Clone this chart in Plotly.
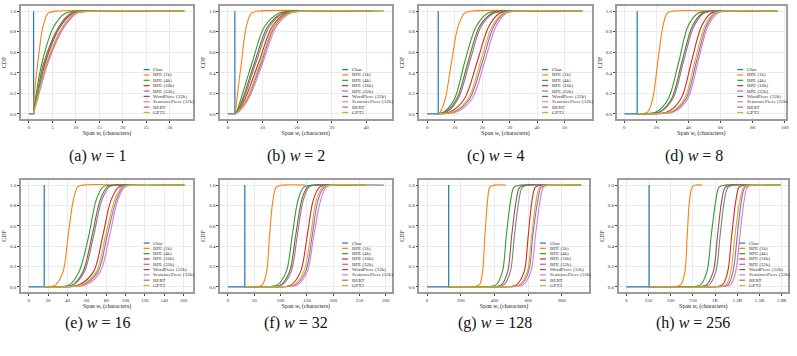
import plotly.graph_objects as go

TOKENIZERS = ["Char", "BPE (1k)", "BPE (4k)", "BPE (16k)", "BPE (32k)",
              "WordPiece (32k)", "SentencePiece (32k)", "BERT", "GPT2"]
COLORS = ["#1f77b4", "#ff7f0e", "#2ca02c", "#d62728", "#9467bd",
          "#8c564b", "#e377c2", "#7f7f7f", "#bcbd22"]

W_VALUES = [1, 2, 4, 8, 16, 32, 128, 256]
PANEL_LETTERS = ["a", "b", "c", "d", "e", "f", "g", "h"]

LEVELS = [0.0, 0.02, 0.15, 0.5, 0.85, 0.98, 1.0]

# rows: BPE1k, BPE4k, BPE16k, BPE32k, WordPiece, SentencePiece, BERT, GPT2
# values: x at each of LEVELS, then the end of the flat tail at 1.0
Q_W1 = [
    [1, 1.02, 1.1, 1.9, 3.0, 4.1, 5.7, 20],
    [1, 1.03, 1.4, 2.8, 5.3, 7.8, 10.6, 28],
    [1, 1.05, 1.7, 3.5, 6.7, 9.4, 12.8, 33],
    [1, 1.06, 1.8, 3.9, 7.4, 10.0, 13.5, 33],
    [1, 1.05, 1.6, 3.2, 6.4, 8.9, 12.0, 33],
    [1, 1.07, 1.9, 4.1, 7.6, 10.3, 13.8, 33],
    [1, 1.05, 1.6, 3.3, 6.5, 9.0, 12.2, 33],
    [1, 1.06, 1.8, 3.8, 7.2, 9.9, 13.4, 33.3],
]
Q_W2 = [
    [2, 2.2, 2.6, 3.9, 5.3, 6.8, 8.7, 30],
    [2, 2.5, 3.8, 7.0, 10.6, 14.7, 18.0, 40],
    [2, 2.8, 5.0, 8.9, 12.8, 16.8, 20.5, 42],
    [2, 3.0, 5.7, 9.7, 13.5, 17.4, 21.4, 42],
    [2, 2.6, 4.3, 7.7, 11.5, 15.7, 19.5, 42],
    [2, 3.1, 6.0, 10.1, 14.0, 18.0, 22.0, 42],
    [2, 2.7, 4.6, 8.1, 12.0, 16.1, 20.0, 45],
    [2, 2.9, 5.5, 9.4, 13.3, 17.6, 21.4, 45],
]
Q_W4 = [
    [4, 4.8, 6.6, 8.8, 11.2, 13.6, 16.0, 40],
    [4, 6.2, 10.0, 13.6, 17.8, 22.0, 25.7, 50],
    [4, 8.5, 13.6, 18.1, 22.4, 26.3, 30.5, 56],
    [4, 10.0, 15.5, 20.0, 24.2, 28.0, 31.7, 56],
    [4, 6.8, 10.8, 14.8, 19.0, 23.6, 28.0, 56],
    [4, 10.8, 16.4, 20.8, 25.0, 28.7, 32.3, 56],
    [4, 7.2, 11.3, 15.4, 19.6, 24.2, 28.7, 56.5],
    [4, 9.5, 15.0, 19.3, 23.6, 27.6, 31.7, 56.8],
]
Q_W8 = [
    [10, 14.6, 17.7, 20.8, 24.0, 26.7, 30.2, 60],
    [12, 20, 27.5, 33.8, 39.6, 45.8, 52, 80],
    [16, 27, 35.4, 41.7, 48, 54, 60, 90],
    [18, 30, 38.5, 44.8, 51, 56.5, 62.5, 95],
    [13, 22, 29.5, 35.8, 42.3, 48.5, 55, 95],
    [19, 31, 39.6, 45.8, 52, 58, 63.5, 95],
    [13, 22.5, 30.3, 36.7, 43.3, 49.5, 56, 95.5],
    [17, 29, 37.5, 43.8, 50, 56, 62.5, 96],
]
Q_W16 = [
    [21, 27.8, 35.5, 40.7, 46, 50.4, 55.7, 100],
    [28, 41.7, 52, 62, 69.6, 76.5, 87, 140],
    [35, 52, 67, 76.5, 85, 93, 102.6, 160],
    [38, 56, 71.5, 81, 90.4, 97.5, 106, 160],
    [30, 45, 56, 65.4, 73.7, 81, 92, 160],
    [40, 59, 74, 83.5, 92, 99, 108, 160],
    [31, 46, 57.5, 67, 75.5, 83, 94, 161],
    [37, 55, 70, 79.3, 88.7, 96, 106, 162],
]
Q_W32 = [
    [46, 65, 73.4, 79, 85.4, 91.8, 103, 147],
    [60, 93.7, 110.8, 122, 133, 144, 160, 230],
    [80, 120, 138, 150.6, 162, 174, 188.6, 260],
    [85, 128, 147.5, 160, 171, 183, 198, 260],
    [65, 100, 117, 128.5, 140, 151, 170, 260],
    [90, 132, 150.6, 163, 176, 186.7, 201, 260],
    [67, 103, 120, 131.6, 143, 154, 173, 296],
    [83, 125, 144, 157, 167.7, 180, 195, 268],
]
Q_W128 = [
    [251, 310, 329, 343, 359, 372, 398, 467],
    [310, 408, 447, 470, 496, 516, 555, 780],
    [400, 530, 576, 600, 623, 643, 682, 914],
    [420, 555, 602, 627, 657, 678, 722, 914],
    [330, 440, 478, 502, 529, 550, 594, 914],
    [430, 570, 616, 643, 671, 692, 741, 914],
    [340, 455, 494, 518, 545, 566, 614, 914],
    [410, 548, 595, 620, 647, 668, 712, 914],
]
Q_W256 = [
    [519, 611, 659, 685, 711, 741, 778, 852],
    [667, 833, 907, 955, 1007, 1044, 1111, 1500],
    [850, 1080, 1141, 1185, 1233, 1270, 1333, 1733],
    [880, 1140, 1200, 1248, 1296, 1335, 1400, 1733],
    [700, 900, 978, 1026, 1074, 1115, 1185, 1733],
    [900, 1170, 1230, 1278, 1326, 1363, 1426, 1733],
    [720, 930, 1007, 1055, 1104, 1145, 1222, 1733],
    [870, 1120, 1175, 1222, 1278, 1320, 1389, 1733],
]
QUANTILES = [Q_W1, Q_W2, Q_W4, Q_W8, Q_W16, Q_W32, Q_W128, Q_W256]

X_TICKVALS = [
    [0, 5, 10, 15, 20, 25, 30],
    [0, 10, 20, 30, 40],
    [0, 10, 20, 30, 40, 50],
    [0, 20, 40, 60, 80, 100],
    [0, 20, 40, 60, 80, 100, 120, 140, 160],
    [0, 50, 100, 150, 200, 250, 300],
    [0, 200, 400, 600, 800],
    [0, 250, 500, 750, 1000, 1250, 1500, 1750],
]
X_TICKTEXT_W256 = ["0", "250", "500", "750", "1K", "1.2K", "1.5K", "1.8K"]
Y_TICKVALS = [0, 0.2, 0.4, 0.6, 0.8, 1.0]
Y_TICKTEXT = ["0.0", "0.2", "0.4", "0.6", "0.8", "1.0"]

X_RANGES = [[-1.7, 35.0], [-2.25, 47.3], [-2.85, 59.9], [-4.8, 100.8],
            [-8.1, 170.1], [-14.8, 310.8], [-45.7, 959.7], [-86.7, 1820]]
Y_RANGE = [-0.05, 1.05]

# ---------------- layout geometry (pixels) ----------------
W_PX, H_PX = 797, 356
FRAMES_X = [(21, 194), (221, 393), (421, 594), (619, 789),
            (21, 194), (221, 393), (421, 591), (621, 791)]
FRAMES_Y = [(6, 119)] * 4 + [(180, 292)] * 4
CAPTION_X = [98, 297, 497, 697, 98, 297, 497, 696]
CAPTION_Y = [156, 156, 156, 156, 323, 323, 323, 323]

FONT = "Liberation Serif, Times New Roman, serif"
fig = go.Figure()
layout = dict(
    width=W_PX, height=H_PX, margin=dict(l=0, r=0, t=0, b=0),
    paper_bgcolor="white", plot_bgcolor="white", showlegend=False,
    font=dict(family=FONT, color="#222"),
)
annotations = []
shapes = []

for i, w in enumerate(W_VALUES):
    sfx = "" if i == 0 else str(i + 1)
    xa, ya = "x" + sfx, "y" + sfx
    # Char: all spans equal w characters -> step at x = w
    fig.add_trace(go.Scatter(
        x=[0, w, w], y=[0, 0, 1], mode="lines",
        line=dict(color=COLORS[0], width=1.2), xaxis=xa, yaxis=ya,
        name=TOKENIZERS[0]))
    for k, row in enumerate(QUANTILES[i]):
        xs = [w] + row[:7] + [row[7]]
        ys = [0] + LEVELS + [1.0]
        px, py = [], []
        for xv, yv in zip(xs, ys):
            if px and xv == px[-1] and yv == py[-1]:
                continue
            px.append(xv)
            py.append(yv)
        fig.add_trace(go.Scatter(
            x=px, y=py, mode="lines",
            line=dict(color=COLORS[k + 1], width=1.1, shape="spline", smoothing=0.9),
            xaxis=xa, yaxis=ya, name=TOKENIZERS[k + 1]))

    x0, x1 = FRAMES_X[i]
    yt, yb = FRAMES_Y[i]
    ticktext = X_TICKTEXT_W256 if i == 7 else [str(v) for v in X_TICKVALS[i]]
    axis_common = dict(
        showline=True, mirror=True, linecolor="#9c9c9c", linewidth=1.5,
        showgrid=True, gridcolor="#ebebeb", gridwidth=0.6, zeroline=False,
        ticks="outside", ticklen=2, tickwidth=0.6, tickcolor="#444",
        tickfont=dict(family=FONT, size=5, color="#333"),
    )
    layout["xaxis" + sfx] = dict(
        axis_common, domain=[x0 / W_PX, x1 / W_PX], anchor=ya,
        range=X_RANGES[i], tickvals=X_TICKVALS[i], ticktext=ticktext,
        title=dict(text="Span <i>w<sub>t</sub></i> (characters)",
                   font=dict(family=FONT, size=6, color="#222"), standoff=1),
    )
    layout["yaxis" + sfx] = dict(
        axis_common, domain=[1 - yb / H_PX, 1 - yt / H_PX], anchor=xa,
        range=Y_RANGE, tickvals=Y_TICKVALS, ticktext=Y_TICKTEXT,
        title=dict(text="CDF", font=dict(family=FONT, size=6, color="#222"), standoff=3),
    )

    # manual legend inside the panel (lower right)
    top, step = 0.437, 0.0474
    for k, name in enumerate(TOKENIZERS):
        yy = top - k * step
        shapes.append(dict(type="line", xref=xa + " domain", yref=ya + " domain",
                           x0=0.712, x1=0.747, y0=yy, y1=yy,
                           line=dict(color=COLORS[k], width=1.2)))
        annotations.append(dict(text=name, xref=xa + " domain", yref=ya + " domain",
                                x=0.757, y=yy, xanchor="left", yanchor="middle",
                                showarrow=False,
                                font=dict(family=FONT, size=5, color="#333")))

    annotations.append(dict(
        text=f"({PANEL_LETTERS[i]}) <i>w</i> = {w}", xref="paper", yref="paper",
        x=CAPTION_X[i] / W_PX, y=1 - CAPTION_Y[i] / H_PX, xanchor="center",
        yanchor="middle", showarrow=False,
        font=dict(family=FONT, size=16, color="#111")))

layout["annotations"] = annotations
layout["shapes"] = shapes
fig.update_layout(**layout)
fig.write_html("out.html")
